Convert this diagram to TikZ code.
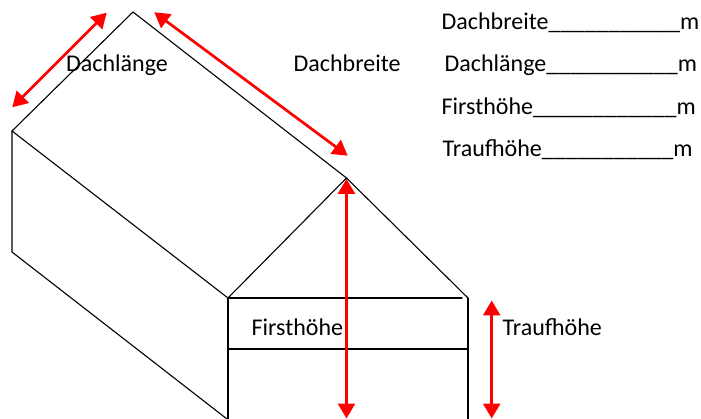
\documentclass[tikz,border=0pt]{standalone}
\usepackage{fontspec}
\setmainfont{Carlito}
\usetikzlibrary{arrows.meta}
\begin{document}
\begin{tikzpicture}[x=1pt,y=-1pt,
  edge/.style={black,line width=1.1pt,line cap=round,line join=round},
  dim/.style={red,line width=2.7pt,{Triangle[length=15pt,width=17pt]}-{Triangle[length=15pt,width=17pt]}},
  lbl/.style={anchor=base west,inner sep=0pt,font=\fontsize{24}{29}\selectfont}]
\useasboundingbox (0,0) rectangle (701,419);
% house corners
\coordinate (top) at (133,12);
\coordinate (eaveL) at (12,131);
\coordinate (wallL) at (12,252);
\coordinate (apex) at (346.5,178);
\coordinate (gL) at (228,298);
\coordinate (gR) at (468,298);
\coordinate (hR) at (462,298);
\coordinate (bL) at (228,419);
\coordinate (bR) at (468,419);
\coordinate (mL) at (228,349);
\coordinate (mR) at (468,349);
\coordinate (bSide) at (227,419);
% house lines
\draw[edge] (eaveL) -- (top) -- (apex);
\draw[edge] (eaveL) -- (gL);
\draw[edge] (eaveL) -- (wallL) -- (bSide);
\draw[edge] (gL) -- (apex) -- (gR);
\draw[edge] (gL) -- (hR);
\draw[edge] (mL) -- (mR);
\draw[edge] (gL) -- (bL);
\draw[edge] (gR) -- (bR);
% dimension arrows
\coordinate (dlA) at (12.3,107.3);
\coordinate (dlB) at (106.7,12.7);
\coordinate (dbA) at (154.3,12.3);
\coordinate (dbB) at (347.7,155.7);
\coordinate (fhA) at (346.5,179);
\coordinate (fhB) at (346.5,418.5);
\coordinate (thA) at (491.7,300.5);
\coordinate (thB) at (491.7,418.5);
\draw[dim] (dlA) -- (dlB);
\draw[dim] (dbA) -- (dbB);
\draw[dim] (fhA) -- (fhB);
\draw[dim] (thA) -- (thB);
% labels
\node[lbl] (tDL) at (66,71.7) {Dachlänge};
\node[lbl] (tDB) at (293.5,71.7) {Dachbreite};
\node[lbl] (tFH) at (251.5,335.7) {Firsthöhe};
\node[lbl] (tTH) at (502.5,335.3) {Traufhöhe};
% list
\node[lbl] (l1) at (441.5,29.3) {Dachbreite\_\_\_\_\_\_\_\_\_\_\_m};
\node[lbl] (l2) at (444.5,71.7) {Dachlänge\_\_\_\_\_\_\_\_\_\_\_m};
\node[lbl] (l3) at (441.5,115) {Firsthöhe\_\_\_\_\_\_\_\_\_\_\_\_m};
\node[lbl] (l4) at (442.5,156.7) {Traufhöhe\_\_\_\_\_\_\_\_\_\_\_m};
\end{tikzpicture}
\end{document}
